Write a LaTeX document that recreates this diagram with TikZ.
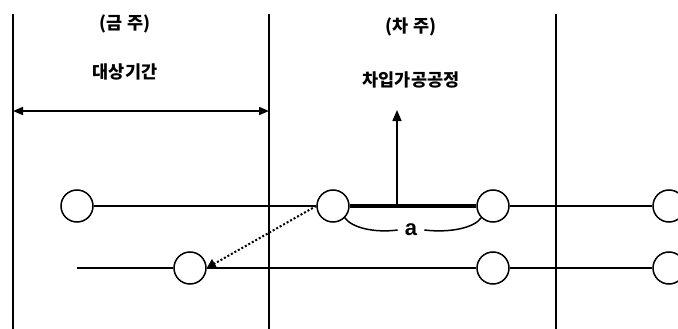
\documentclass[tikz,border=0pt]{standalone}
\usepackage{fontspec}
\setmainfont{Liberation Sans}
\newfontfamily\kr{Noto Sans CJK KR}
\usetikzlibrary{arrows.meta}
\begin{document}
\begin{tikzpicture}[x=1pt,y=-1pt,
  ev/.style={circle,draw,line width=1.5pt,minimum size=32pt,inner sep=0pt,fill=white},
  vline/.style={line width=1.7pt},
  hline/.style={line width=1.5pt},
  lbl/.style={font=\kr\bfseries\fontsize{17.5}{20}\selectfont,inner sep=0pt}]
\useasboundingbox (0,0) rectangle (678,329);
% vertical lines
\coordinate (v1t) at (13,14); \coordinate (v1b) at (13,329);
\coordinate (v2t) at (269,14); \coordinate (v2b) at (269,329);
\coordinate (v3t) at (556,14); \coordinate (v3b) at (556,329);
\draw[vline] (v1t) -- (v1b);
\draw[vline] (v2t) -- (v2b);
\draw[vline] (v3t) -- (v3b);
% labels
\node[lbl] (wk1) at (125,24) {(금 주)};
\node[lbl] (per) at (125,72) {대상기간};
\node[lbl] (wk2) at (411,27) {(차 주)};
\node[lbl] (proc) at (411,80) {차입가공공정};
% double arrow
\coordinate (da1) at (13,111); \coordinate (da2) at (269,111);
\draw[hline,{Triangle[length=10pt,width=8pt]}-{Triangle[length=10pt,width=8pt]}] (da1) -- (da2);
% nodes row 1
\node[ev] (a1) at (77,206) {};
\node[ev] (a2) at (333,206) {};
\node[ev] (a3) at (493,206) {};
\node[ev] (a4) at (669,206) {};
% row 2
\coordinate (b0) at (77,268);
\node[ev] (b1) at (190,268) {};
\node[ev] (b2) at (493,268) {};
\node[ev] (b3) at (669,268) {};
% connectors
\draw[hline] (a1) -- (a2);
\draw[line width=3.5pt] (a2) -- (a3);
\draw[hline] (a3) -- (a4);
\draw[hline] (b0) -- (b1);
\draw[hline] (b1) -- (b2);
\draw[hline] (b2) -- (b3);
% up arrow
\coordinate (up0) at (397,206); \coordinate (up1) at (397,110);
\draw[hline,-{Triangle[length=11pt,width=9pt]}] (up0) -- (up1);
% dotted arrow
\draw[line width=2pt,dotted,-{Triangle[length=9pt,width=10pt]}] (a2.west) -- (b1.east);
% brace a
\node[font=\bfseries\fontsize{22}{24}\selectfont,inner xsep=7pt,inner ysep=3pt] (alab) at (411,230) {a};
\draw[hline] (a2.south east) .. controls (352,228) and (375,233) .. (alab.west);
\draw[hline] (alab.east) .. controls (450,233) and (474,228) .. (a3.south west);
\end{tikzpicture}
\end{document}
